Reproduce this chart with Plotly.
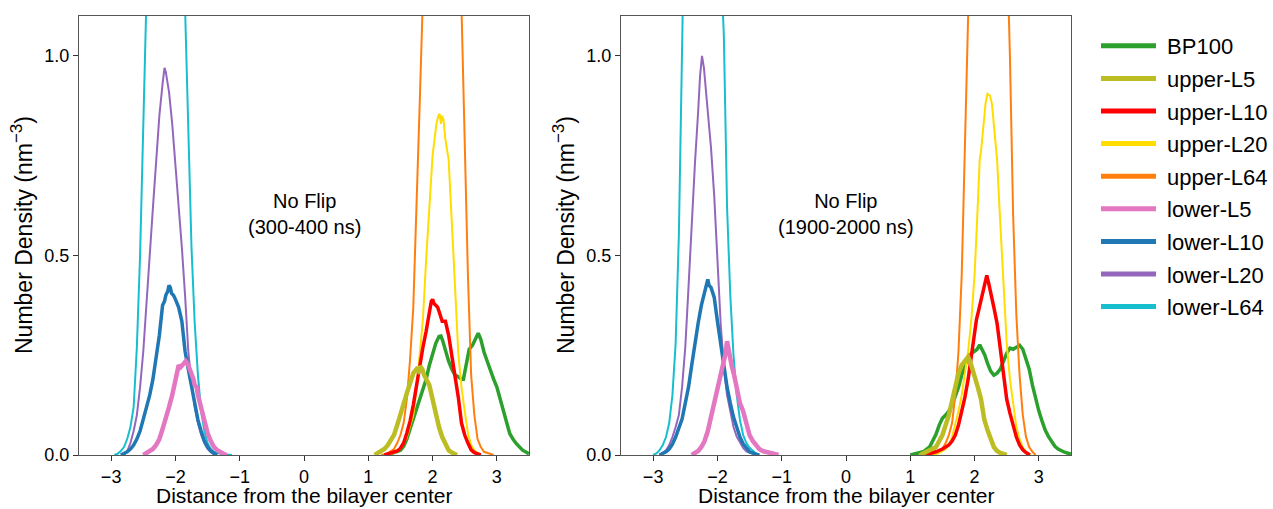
import plotly.graph_objects as go

# Number-density profiles (distance in nm, density in nm^-3), as (z, rho) pairs.
# Window A: 300-400 ns, window B: 1900-2000 ns.

BP100_A = [(1.30, 0.0), (1.40, 0.005), (1.50, 0.012), (1.55, 0.022), (1.60, 0.04), (1.65, 0.065),
           (1.70, 0.09), (1.75, 0.115), (1.80, 0.14), (1.85, 0.165), (1.90, 0.19), (1.95, 0.225),
           (2.00, 0.255), (2.05, 0.28), (2.10, 0.297), (2.13, 0.298), (2.16, 0.285), (2.20, 0.26),
           (2.25, 0.235), (2.30, 0.215), (2.35, 0.20), (2.40, 0.196), (2.45, 0.19), (2.48, 0.19),
           (2.52, 0.22), (2.57, 0.265), (2.62, 0.275), (2.67, 0.29), (2.71, 0.305), (2.75, 0.29),
           (2.80, 0.258), (2.85, 0.235), (2.90, 0.21), (2.95, 0.19), (3.00, 0.17), (3.05, 0.14),
           (3.10, 0.113), (3.15, 0.08), (3.20, 0.054), (3.25, 0.04), (3.30, 0.029), (3.40, 0.012),
           (3.50, 0.003)]

UPPER_L5_A = [(1.10, 0.0), (1.15, 0.004), (1.20, 0.008), (1.25, 0.015), (1.30, 0.024), (1.35, 0.035),
              (1.40, 0.05), (1.45, 0.075), (1.50, 0.105), (1.55, 0.13), (1.60, 0.155), (1.65, 0.18),
              (1.70, 0.205), (1.75, 0.215), (1.78, 0.21), (1.81, 0.222), (1.84, 0.215), (1.87, 0.20),
              (1.90, 0.19), (1.95, 0.175), (2.00, 0.14), (2.05, 0.10), (2.10, 0.07), (2.15, 0.045),
              (2.20, 0.025), (2.25, 0.012), (2.30, 0.006), (2.38, 0.0)]

UPPER_L10_A = [(1.25, 0.0), (1.35, 0.004), (1.45, 0.01), (1.50, 0.017), (1.55, 0.03), (1.60, 0.055),
               (1.65, 0.085), (1.70, 0.125), (1.75, 0.175), (1.80, 0.225), (1.85, 0.27), (1.90, 0.31),
               (1.95, 0.355), (1.98, 0.385), (2.00, 0.39), (2.02, 0.38), (2.05, 0.375), (2.08, 0.37),
               (2.10, 0.36), (2.15, 0.335), (2.18, 0.335), (2.20, 0.335), (2.25, 0.30), (2.30, 0.25),
               (2.35, 0.205), (2.40, 0.145), (2.45, 0.08), (2.50, 0.05), (2.55, 0.03), (2.60, 0.013),
               (2.65, 0.006), (2.70, 0.002), (2.75, 0.0)]

UPPER_L20_A = [(1.30, 0.0), (1.40, 0.005), (1.50, 0.015), (1.55, 0.028), (1.60, 0.045), (1.65, 0.07),
               (1.70, 0.10), (1.75, 0.165), (1.80, 0.25), (1.85, 0.34), (1.90, 0.49), (1.95, 0.62),
               (1.98, 0.67), (2.00, 0.75), (2.03, 0.79), (2.06, 0.83), (2.09, 0.85), (2.11, 0.855),
               (2.13, 0.83), (2.15, 0.85), (2.17, 0.84), (2.20, 0.79), (2.25, 0.74), (2.30, 0.59),
               (2.35, 0.42), (2.40, 0.255), (2.45, 0.17), (2.50, 0.11), (2.55, 0.055), (2.60, 0.025),
               (2.65, 0.012), (2.70, 0.005), (2.75, 0.0)]

UPPER_L64_A = [(1.20, 0.0), (1.30, 0.004), (1.40, 0.015), (1.45, 0.03), (1.50, 0.05), (1.55, 0.08),
               (1.60, 0.14), (1.65, 0.24), (1.70, 0.37), (1.75, 0.60), (1.80, 0.88), (1.85, 1.15),
               (1.90, 1.55), (1.95, 2.0), (2.00, 2.4), (2.05, 2.7), (2.10, 2.85), (2.15, 2.9),
               (2.20, 2.85), (2.25, 2.65), (2.30, 2.3), (2.35, 1.85), (2.40, 1.4), (2.45, 1.12),
               (2.50, 0.76), (2.55, 0.45), (2.60, 0.20), (2.65, 0.10), (2.70, 0.04), (2.75, 0.02),
               (2.80, 0.008), (2.90, 0.002), (2.95, 0.0)]

LOWER_L5_A = [(-2.50, 0.0), (-2.45, 0.004), (-2.40, 0.008), (-2.35, 0.015), (-2.30, 0.025), (-2.25, 0.04),
              (-2.20, 0.065), (-2.15, 0.09), (-2.10, 0.12), (-2.05, 0.15), (-2.00, 0.185), (-1.97, 0.215),
              (-1.95, 0.225), (-1.92, 0.22), (-1.90, 0.225), (-1.87, 0.23), (-1.84, 0.235), (-1.80, 0.225),
              (-1.75, 0.205), (-1.72, 0.19), (-1.70, 0.175), (-1.67, 0.17), (-1.65, 0.15), (-1.60, 0.115),
              (-1.55, 0.08), (-1.50, 0.055), (-1.45, 0.035), (-1.40, 0.02), (-1.35, 0.012), (-1.30, 0.006),
              (-1.25, 0.003), (-1.20, 0.0)]

LOWER_L10_A = [(-2.85, 0.0), (-2.80, 0.003), (-2.75, 0.008), (-2.70, 0.015), (-2.65, 0.025), (-2.60, 0.04),
               (-2.55, 0.06), (-2.50, 0.09), (-2.45, 0.12), (-2.40, 0.15), (-2.35, 0.19), (-2.30, 0.245),
               (-2.25, 0.30), (-2.20, 0.375), (-2.17, 0.385), (-2.15, 0.40), (-2.12, 0.41), (-2.10, 0.425),
               (-2.08, 0.42), (-2.06, 0.405), (-2.03, 0.40), (-2.00, 0.39), (-1.95, 0.37), (-1.90, 0.335),
               (-1.85, 0.26), (-1.80, 0.215), (-1.75, 0.17), (-1.70, 0.125), (-1.65, 0.088), (-1.60, 0.06),
               (-1.55, 0.035), (-1.50, 0.02), (-1.45, 0.01), (-1.40, 0.004), (-1.35, 0.0)]

LOWER_L20_A = [(-2.80, 0.0), (-2.75, 0.01), (-2.70, 0.03), (-2.65, 0.06), (-2.60, 0.10), (-2.55, 0.17),
               (-2.50, 0.26), (-2.45, 0.37), (-2.40, 0.50), (-2.35, 0.62), (-2.30, 0.74), (-2.25, 0.85),
               (-2.20, 0.93), (-2.17, 0.97), (-2.15, 0.96), (-2.10, 0.91), (-2.05, 0.83), (-2.00, 0.73),
               (-1.95, 0.62), (-1.90, 0.52), (-1.85, 0.40), (-1.80, 0.26), (-1.75, 0.18), (-1.70, 0.12),
               (-1.65, 0.08), (-1.60, 0.05), (-1.55, 0.03), (-1.50, 0.015), (-1.45, 0.007), (-1.40, 0.002),
               (-1.35, 0.0)]

LOWER_L64_A = [(-2.95, 0.0), (-2.90, 0.003), (-2.85, 0.01), (-2.80, 0.02), (-2.75, 0.04), (-2.70, 0.07),
               (-2.65, 0.12), (-2.60, 0.27), (-2.55, 0.50), (-2.50, 0.80), (-2.45, 1.15), (-2.40, 1.55),
               (-2.35, 1.95), (-2.30, 2.30), (-2.25, 2.55), (-2.20, 2.70), (-2.15, 2.72), (-2.10, 2.62),
               (-2.05, 2.40), (-2.00, 2.08), (-1.95, 1.70), (-1.90, 1.35), (-1.85, 1.12), (-1.80, 0.80),
               (-1.75, 0.52), (-1.70, 0.33), (-1.65, 0.20), (-1.60, 0.11), (-1.55, 0.06), (-1.50, 0.03),
               (-1.45, 0.015), (-1.40, 0.008), (-1.30, 0.003), (-1.20, 0.001), (-1.12, 0.0)]

BP100_B = [(1.00, 0.0), (1.10, 0.003), (1.20, 0.008), (1.30, 0.02), (1.35, 0.035), (1.40, 0.052),
           (1.45, 0.075), (1.50, 0.092), (1.55, 0.10), (1.60, 0.11), (1.65, 0.125), (1.70, 0.145),
           (1.75, 0.17), (1.80, 0.20), (1.85, 0.225), (1.90, 0.24), (1.95, 0.255), (2.00, 0.26),
           (2.04, 0.265), (2.08, 0.276), (2.12, 0.265), (2.16, 0.25), (2.20, 0.23), (2.25, 0.21),
           (2.30, 0.20), (2.35, 0.205), (2.40, 0.215), (2.45, 0.235), (2.50, 0.255), (2.55, 0.268),
           (2.60, 0.265), (2.65, 0.27), (2.70, 0.275), (2.75, 0.265), (2.80, 0.24), (2.85, 0.215),
           (2.90, 0.175), (2.95, 0.14), (3.00, 0.11), (3.05, 0.085), (3.10, 0.062), (3.15, 0.046),
           (3.20, 0.032), (3.25, 0.022), (3.30, 0.015), (3.40, 0.007), (3.50, 0.002)]

UPPER_L5_B = [(1.15, 0.0), (1.20, 0.004), (1.30, 0.01), (1.40, 0.02), (1.45, 0.035), (1.50, 0.05),
              (1.55, 0.075), (1.60, 0.10), (1.65, 0.135), (1.70, 0.17), (1.75, 0.205), (1.80, 0.225),
              (1.85, 0.235), (1.90, 0.246), (1.93, 0.235), (1.97, 0.21), (2.00, 0.195), (2.05, 0.17),
              (2.10, 0.14), (2.15, 0.09), (2.20, 0.063), (2.25, 0.038), (2.30, 0.02), (2.35, 0.01),
              (2.40, 0.005), (2.50, 0.0)]

UPPER_L10_B = [(1.20, 0.0), (1.30, 0.004), (1.40, 0.008), (1.50, 0.015), (1.60, 0.025), (1.65, 0.035),
               (1.70, 0.05), (1.75, 0.075), (1.80, 0.11), (1.85, 0.145), (1.90, 0.19), (1.95, 0.25),
               (2.00, 0.31), (2.03, 0.34), (2.06, 0.36), (2.10, 0.39), (2.13, 0.41), (2.16, 0.43),
               (2.19, 0.45), (2.22, 0.43), (2.25, 0.41), (2.30, 0.37), (2.35, 0.33), (2.40, 0.265),
               (2.45, 0.195), (2.50, 0.14), (2.55, 0.105), (2.60, 0.075), (2.65, 0.045), (2.70, 0.025),
               (2.75, 0.013), (2.80, 0.006), (2.86, 0.0)]

UPPER_L20_B = [(1.35, 0.0), (1.45, 0.005), (1.55, 0.015), (1.60, 0.025), (1.65, 0.045), (1.70, 0.075),
               (1.75, 0.11), (1.80, 0.15), (1.85, 0.20), (1.90, 0.26), (1.95, 0.34), (2.00, 0.45),
               (2.04, 0.59), (2.08, 0.74), (2.10, 0.76), (2.13, 0.82), (2.17, 0.88), (2.20, 0.905),
               (2.24, 0.90), (2.27, 0.88), (2.30, 0.82), (2.35, 0.74), (2.40, 0.58), (2.45, 0.42),
               (2.50, 0.28), (2.55, 0.19), (2.60, 0.125), (2.65, 0.07), (2.70, 0.04), (2.75, 0.02),
               (2.80, 0.008), (2.87, 0.0)]

UPPER_L64_B = [(1.30, 0.0), (1.40, 0.004), (1.50, 0.015), (1.55, 0.03), (1.60, 0.05), (1.65, 0.08),
               (1.70, 0.15), (1.75, 0.26), (1.80, 0.45), (1.85, 0.75), (1.90, 1.1), (1.95, 1.5),
               (2.00, 1.95), (2.05, 2.35), (2.10, 2.65), (2.15, 2.8), (2.20, 2.85), (2.25, 2.8),
               (2.30, 2.6), (2.35, 2.3), (2.40, 1.95), (2.45, 1.6), (2.50, 1.3), (2.55, 1.0),
               (2.60, 0.6), (2.65, 0.35), (2.70, 0.2), (2.75, 0.1), (2.80, 0.045), (2.85, 0.02),
               (2.90, 0.008), (2.95, 0.0)]

LOWER_L5_B = [(-2.40, 0.0), (-2.35, 0.004), (-2.30, 0.01), (-2.25, 0.02), (-2.20, 0.035), (-2.15, 0.06),
              (-2.10, 0.095), (-2.05, 0.13), (-2.00, 0.17), (-1.95, 0.205), (-1.92, 0.225), (-1.88, 0.25),
              (-1.85, 0.285), (-1.82, 0.255), (-1.78, 0.225), (-1.74, 0.20), (-1.70, 0.165), (-1.65, 0.13),
              (-1.60, 0.11), (-1.55, 0.075), (-1.50, 0.05), (-1.45, 0.035), (-1.40, 0.024), (-1.35, 0.015),
              (-1.30, 0.01), (-1.20, 0.005), (-1.10, 0.002), (-1.05, 0.0)]

LOWER_L10_B = [(-2.90, 0.0), (-2.85, 0.003), (-2.80, 0.008), (-2.75, 0.015), (-2.70, 0.027), (-2.65, 0.045),
               (-2.60, 0.065), (-2.55, 0.09), (-2.50, 0.13), (-2.45, 0.17), (-2.40, 0.225), (-2.35, 0.285),
               (-2.30, 0.33), (-2.25, 0.375), (-2.20, 0.41), (-2.17, 0.43), (-2.15, 0.44), (-2.13, 0.425),
               (-2.10, 0.42), (-2.07, 0.405), (-2.05, 0.395), (-2.00, 0.335), (-1.95, 0.28), (-1.90, 0.22),
               (-1.85, 0.17), (-1.80, 0.13), (-1.75, 0.095), (-1.70, 0.07), (-1.65, 0.045), (-1.60, 0.028),
               (-1.55, 0.016), (-1.50, 0.008), (-1.40, 0.002), (-1.35, 0.0)]

LOWER_L20_B = [(-2.90, 0.0), (-2.85, 0.005), (-2.80, 0.012), (-2.75, 0.025), (-2.70, 0.045), (-2.65, 0.07),
               (-2.60, 0.10), (-2.55, 0.17), (-2.50, 0.27), (-2.45, 0.42), (-2.40, 0.58), (-2.35, 0.73),
               (-2.30, 0.86), (-2.27, 0.95), (-2.24, 1.0), (-2.21, 0.97), (-2.15, 0.86), (-2.10, 0.77),
               (-2.05, 0.65), (-2.00, 0.47), (-1.95, 0.33), (-1.90, 0.22), (-1.85, 0.15), (-1.80, 0.11),
               (-1.75, 0.07), (-1.70, 0.046), (-1.65, 0.03), (-1.60, 0.018), (-1.55, 0.009), (-1.45, 0.003),
               (-1.35, 0.0)]

LOWER_L64_B = [(-3.00, 0.0), (-2.95, 0.004), (-2.90, 0.012), (-2.85, 0.025), (-2.80, 0.045), (-2.75, 0.08),
               (-2.70, 0.15), (-2.65, 0.28), (-2.60, 0.55), (-2.55, 1.05), (-2.50, 1.5), (-2.45, 1.95),
               (-2.40, 2.35), (-2.35, 2.6), (-2.30, 2.75), (-2.25, 2.8), (-2.20, 2.75), (-2.15, 2.55),
               (-2.10, 2.2), (-2.05, 1.8), (-2.00, 1.5), (-1.95, 1.25), (-1.90, 1.05), (-1.85, 0.62),
               (-1.80, 0.4), (-1.75, 0.25), (-1.70, 0.15), (-1.65, 0.088), (-1.60, 0.05), (-1.55, 0.03),
               (-1.50, 0.018), (-1.45, 0.01), (-1.40, 0.004), (-1.35, 0.0)]

SERIES_NAMES = ["BP100", "upper-L5", "upper-L10", "upper-L20", "upper-L64",
                "lower-L5", "lower-L10", "lower-L20", "lower-L64"]
WINDOW_LABELS = ["No Flip<br>(300-400 ns)", "No Flip<br>(1900-2000 ns)"]
X_TITLE = "Distance from the bilayer center"
Y_TITLE = "Number Density (nm<sup><span style='font-size:17px'>−3</span></sup>)"
X_TICKS = [-3, -2, -1, 0, 1, 2, 3]
Y_TICKS = [0.0, 0.5, 1.0]

profiles = {
    "BP100": (BP100_A, BP100_B),
    "upper-L5": (UPPER_L5_A, UPPER_L5_B),
    "upper-L10": (UPPER_L10_A, UPPER_L10_B),
    "upper-L20": (UPPER_L20_A, UPPER_L20_B),
    "upper-L64": (UPPER_L64_A, UPPER_L64_B),
    "lower-L5": (LOWER_L5_A, LOWER_L5_B),
    "lower-L10": (LOWER_L10_A, LOWER_L10_B),
    "lower-L20": (LOWER_L20_A, LOWER_L20_B),
    "lower-L64": (LOWER_L64_A, LOWER_L64_B),
}

colors = {
    "BP100": "#2ca02c", "upper-L5": "#bcbd22", "upper-L10": "#ff0000",
    "upper-L20": "#ffdd00", "upper-L64": "#ff7f0e", "lower-L5": "#e377c2",
    "lower-L10": "#1f77b4", "lower-L20": "#9467bd", "lower-L64": "#17becf",
}
widths = {
    "BP100": 3.5, "upper-L5": 4.5, "upper-L10": 3.5, "upper-L20": 2, "upper-L64": 2,
    "lower-L5": 4.5, "lower-L10": 3.5, "lower-L20": 2, "lower-L64": 2,
}
draw_order = ["BP100", "upper-L64", "upper-L20", "upper-L10", "upper-L5",
              "lower-L64", "lower-L20", "lower-L10", "lower-L5"]

FONT = "Liberation Sans, Arial, Helvetica, sans-serif"
W, H = 1273, 509
fig = go.Figure()

for panel, (xa, ya) in enumerate([("x", "y"), ("x2", "y2")]):
    for name in draw_order:
        pts = profiles[name][panel]
        fig.add_trace(go.Scatter(
            x=[p[0] for p in pts], y=[p[1] for p in pts], mode="lines",
            line=dict(color=colors[name], width=widths[name]),
            xaxis=xa, yaxis=ya, showlegend=False, hoverinfo="skip", cliponaxis=True,
        ))

# legend entries with uniform thick swatches
for i, name in enumerate(SERIES_NAMES):
    fig.add_trace(go.Scatter(
        x=[None], y=[None], mode="lines", name=" " + name,
        line=dict(color=colors[name], width=5),
        legendgroup=f"g{i}", xaxis="x", yaxis="y",
    ))

axis_common = dict(
    showline=True, linecolor="#555555", linewidth=1.2, mirror=True,
    ticks="outside", ticklen=5, tickwidth=1.2, tickcolor="#333333",
    showgrid=False, zeroline=False, automargin=False,
    tickfont=dict(family=FONT, size=18, color="black"),
)

# plot-area pixel extents
x_px = [(79, 529), (621, 1071)]
y_px = (16, 455)
xdom = [[a / W, b / W] for a, b in x_px]
ydom = [1 - y_px[1] / H, 1 - y_px[0] / H]

layout = dict(
    width=W, height=H,
    margin=dict(l=0, r=0, t=0, b=0),
    paper_bgcolor="white", plot_bgcolor="white",
    font=dict(family=FONT, color="black"),
    legend=dict(
        x=1096 / W, y=1 - 25 / H, xanchor="left", yanchor="top",
        font=dict(family=FONT, size=22, color="black"),
        traceorder="grouped", tracegroupgap=1, itemwidth=55,
        bgcolor="rgba(0,0,0,0)",
    ),
    annotations=[],
)

for i, (xk, yk) in enumerate([("xaxis", "yaxis"), ("xaxis2", "yaxis2")]):
    layout[xk] = dict(
        axis_common, domain=xdom[i], range=[-3.5, 3.5],
        tickmode="array", tickvals=X_TICKS,
        anchor="y" if i == 0 else "y2",
    )
    layout[yk] = dict(
        axis_common, domain=ydom, range=[0, 1.1],
        tickmode="array", tickvals=Y_TICKS, tickformat=".1f",
        anchor="x" if i == 0 else "x2",
    )
    xc = (x_px[i][0] + x_px[i][1]) / 2
    # axis titles
    layout["annotations"].append(dict(
        x=xc / W, y=1 - 495 / H, xref="paper", yref="paper",
        xanchor="center", yanchor="middle", text=X_TITLE, showarrow=False,
        font=dict(family=FONT, size=21, color="black"),
    ))
    layout["annotations"].append(dict(
        x=(x_px[i][0] - 57) / W, y=1 - 235 / H, xref="paper", yref="paper",
        xanchor="center", yanchor="middle", text=Y_TITLE, textangle=-90, showarrow=False,
        font=dict(family=FONT, size=23, color="black"),
    ))
    # time-window label
    layout["annotations"].append(dict(
        x=0, y=0.604, xref="x" if i == 0 else "x2", yref="y" if i == 0 else "y2",
        text=WINDOW_LABELS[i], showarrow=False,
        font=dict(family=FONT, size=20, color="black"), align="center",
    ))

fig.update_layout(**layout)
fig.write_html("out.html")
